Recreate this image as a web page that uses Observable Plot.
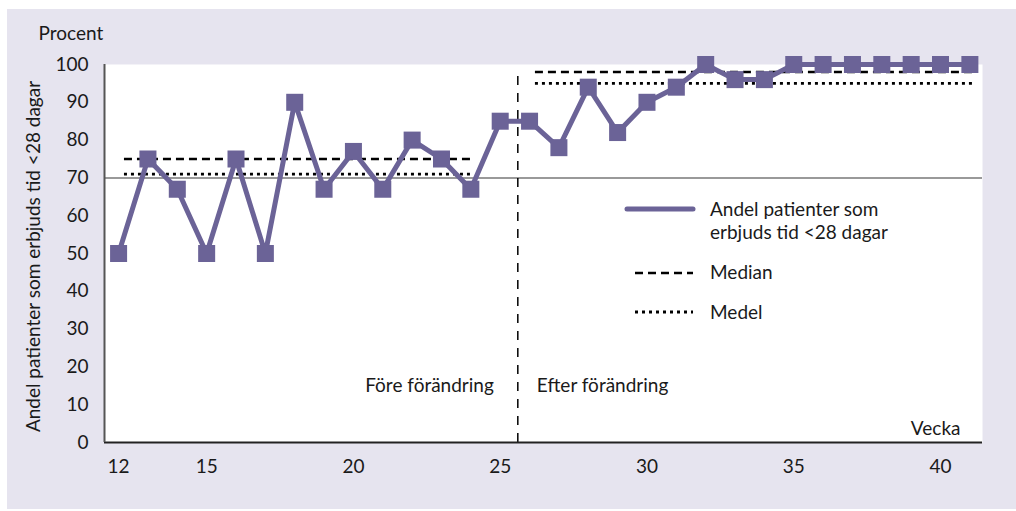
<!DOCTYPE html>
<html><head><meta charset="utf-8">
<script src="https://cdn.jsdelivr.net/npm/d3@7"></script>
<script src="https://cdn.jsdelivr.net/npm/@observablehq/plot@0.6"></script>
<style>
body{margin:0;background:#fff;font-family:Lato,sans-serif;color:#1a1a1a;}
#wrap{position:relative;width:1016px;height:511px;overflow:hidden;}
#panel{position:absolute;left:7px;top:9px;width:1009px;height:500px;background:#e6e4ef;}
#chart{position:absolute;left:0;top:0;}
.lg{position:absolute;font-size:19px;line-height:23px;white-space:nowrap;}
.lgs{position:absolute;}
</style></head><body>
<div id="wrap"><div id="panel"></div><div id="chart"></div><div id="legend"></div></div>
<script>
const weeks = [12,13,14,15,16,17,18,19,20,21,22,23,24,25,26,27,28,29,30,31,32,33,34,35,36,37,38,39,40,41];
const values = [50,75,67,50,75,50,90,67,77,67,80,75,67,85,85,78,94,82,90,94,100,96,96,100,100,100,100,100,100,100];
const periodNames = ["Före förändring","Efter förändring"];
const periodStart = [12.2, 26.2];
const periodEnd = [24, 41.1];
const medians = [75, 98];
const means = [71, 95];
const splitWeek = 25.6;
const targetValue = 70;
const yTicks = [0,10,20,30,40,50,60,70,80,90,100];
const xTicks = [12,15,20,25,30,35,40];
const legendLabels = ["Andel patienter som erbjuds tid <28 dagar","Median","Medel"];

const purple = "#6b6397";
const FS = 19;
const data = weeks.map((w,i)=>({week:w, value:values[i]}));
const periods = periodNames.map((n,i)=>({name:n, x1:periodStart[i], x2:periodEnd[i], median:medians[i], mean:means[i]}));

const chart = Plot.plot({
  width:1016, height:511,
  marginLeft:104, marginTop:64, marginRight:34, marginBottom:69,
  style:{background:"transparent", fontFamily:"Lato", fontSize:FS+"px", color:"#1a1a1a"},
  x:{domain:[11.52,41.43], ticks:xTicks, tickSize:0, tickPadding:17, label:null},
  y:{domain:[0,100], ticks:yTicks, tickSize:0, tickPadding:16, label:null},
  marks:[
    Plot.frame({fill:"white", stroke:null}),
    Plot.ruleY([targetValue], {stroke:"#777", strokeWidth:1.5}),
    Plot.ruleY(periods, {y:"median", x1:"x1", x2:"x2", stroke:"#000", strokeWidth:2.5, strokeDasharray:"8,5"}),
    Plot.ruleY(periods, {y:"mean", x1:"x1", x2:"x2", stroke:"#000", strokeWidth:2.8, strokeDasharray:"3,4"}),
    Plot.ruleX([splitWeek], {y1:0, y2:98.4, stroke:"#000", strokeWidth:1.5, strokeDasharray:"9,8"}),
    Plot.ruleY([0], {stroke:"#222", strokeWidth:2}),
    Plot.ruleX([11.52], {stroke:"#555", strokeWidth:2}),
    Plot.line(data, {x:"week", y:"value", stroke:purple, strokeWidth:5}),
    Plot.dot(data, {x:"week", y:"value", symbol:"square", r:9.6, fill:purple, stroke:null}),
    Plot.text([periodNames[0]], {x:[splitWeek], y:[15], textAnchor:"end", dx:-24, fontSize:FS}),
    Plot.text([periodNames[1]], {x:[splitWeek], y:[15], textAnchor:"start", dx:19, fontSize:FS}),
    Plot.axisY({ticks:yTicks, tickSize:0, tickPadding:16, label:null, fontSize:FS}),
    Plot.axisX({ticks:xTicks, tickSize:0, tickPadding:17, label:null, fontSize:FS}),
    Plot.text(["Andel patienter som erbjuds tid <28 dagar"], {frameAnchor:"left", textAnchor:"middle", lineAnchor:"middle", rotate:-90, dx:-71, dy:3, fontSize:FS}),
    Plot.text(["Procent"], {frameAnchor:"top-left", textAnchor:"start", lineAnchor:"middle", dx:-66, dy:-31, fontSize:FS}),
    Plot.text(["Vecka"], {frameAnchor:"bottom-right", textAnchor:"end", lineAnchor:"middle", dx:-22, dy:-14, fontSize:FS})
  ]
});
document.getElementById("chart").appendChild(chart);

// legend overlay
const lg = document.getElementById("legend");
lg.innerHTML = `
<svg class="lgs" style="left:624px;top:199px" width="72" height="20"><line x1="3" x2="69" y1="10" y2="10" stroke="${purple}" stroke-width="5" stroke-linecap="round"/></svg>
<div class="lg" style="left:710px;top:197px">Andel patienter som<br>erbjuds tid &lt;28 dagar</div>
<svg class="lgs" style="left:634px;top:263px" width="60" height="20"><line x1="1" x2="59" y1="10" y2="10" stroke="#000" stroke-width="2.5" stroke-dasharray="8,5"/></svg>
<div class="lg" style="left:710px;top:260px">${legendLabels[1]}</div>
<svg class="lgs" style="left:634px;top:302px" width="60" height="20"><line x1="1" x2="59" y1="10" y2="10" stroke="#000" stroke-width="2.8" stroke-dasharray="3,4"/></svg>
<div class="lg" style="left:710px;top:300px">${legendLabels[2]}</div>`;
</script>
</body></html>
